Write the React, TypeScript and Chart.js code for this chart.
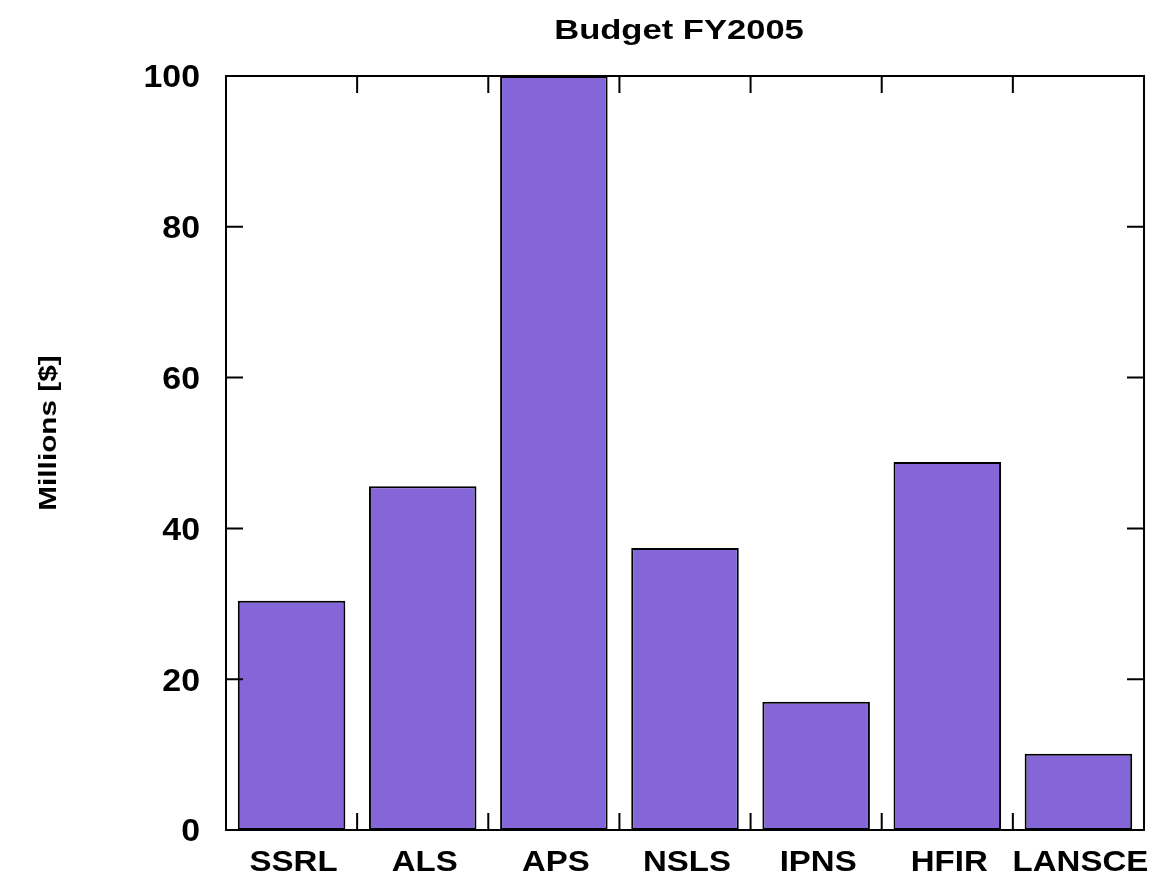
import React, { useEffect, useRef } from "react";
import { Chart, registerables } from "chart.js";

Chart.register(...registerables);

const categories = ["SSRL", "ALS", "APS", "NSLS", "IPNS", "HFIR", "LANSCE"];
const budget = [30.4, 45.6, 100, 37.4, 17.0, 48.8, 10.1];
const yTicks = [0, 20, 40, 60, 80, 100];
const titleText = "Budget FY2005";
const yTitleText = "Millions [$]";

const FAMILY = "'Liberation Sans', Arial, sans-serif";

function stretchedText(
  ctx: CanvasRenderingContext2D,
  text: string,
  x: number,
  y: number,
  size: number,
  sx: number,
  align: CanvasTextAlign,
  rotate = 0
) {
  ctx.save();
  ctx.translate(x, y);
  if (rotate) ctx.rotate(rotate);
  ctx.scale(sx, 1);
  ctx.font = `bold ${size}px ${FAMILY}`;
  ctx.fillStyle = "#000";
  ctx.textAlign = align;
  ctx.textBaseline = "alphabetic";
  ctx.fillText(text, 0, size * 0.358);
  ctx.restore();
}

const frameTicks = {
  id: "frameTicks",
  afterDraw(chart: any) {
    const { ctx, chartArea } = chart;
    const { left, right, top, bottom } = chartArea;
    const x = chart.scales.x;
    const y = chart.scales.y;
    const len = 17;
    ctx.save();
    ctx.strokeStyle = "#000";
    ctx.lineWidth = 2;
    ctx.beginPath();
    ctx.rect(left, top, right - left, bottom - top);
    ctx.stroke();
    ctx.beginPath();
    for (let i = 0; i < categories.length - 1; i++) {
      const px = (x.getPixelForValue(i) + x.getPixelForValue(i + 1)) / 2;
      ctx.moveTo(px, bottom);
      ctx.lineTo(px, bottom - len);
      ctx.moveTo(px, top);
      ctx.lineTo(px, top + len);
    }
    for (const v of yTicks) {
      const py = y.getPixelForValue(v);
      ctx.moveTo(left, py);
      ctx.lineTo(left + len, py);
      ctx.moveTo(right, py);
      ctx.lineTo(right - len, py);
    }
    ctx.stroke();
    ctx.restore();

    // text
    stretchedText(ctx, titleText, (left + right) / 2 - 6, 29, 27, 1.28, "center");
    for (const v of yTicks) {
      stretchedText(ctx, String(v), left - 26, y.getPixelForValue(v), 32, 1.06, "right");
    }
    categories.forEach((c, i) => {
      stretchedText(ctx, c, x.getPixelForValue(i) + 2, bottom + 30, 30, 1.1, "center");
    });
    stretchedText(ctx, yTitleText, 47, (top + bottom) / 2 - 20, 24, 1.24, "center", -Math.PI / 2);
  },
};

export default function App() {
  const ref = useRef<HTMLCanvasElement>(null);
  useEffect(() => {
    document.body.style.margin = "0";
    const chart = new Chart(ref.current!, {
      type: "bar",
      data: {
        labels: categories,
        datasets: [
          {
            data: budget,
            backgroundColor: "#8466D8",
            borderColor: "#000",
            borderWidth: 2,
            borderSkipped: false,
            categoryPercentage: 1,
            barPercentage: 0.82,
          },
        ],
      },
      options: {
        responsive: false,
        animation: false,
        layout: { padding: { left: 0, right: 14, top: 76, bottom: 0 } },
        plugins: {
          legend: { display: false },
          tooltip: { enabled: false },
          title: { display: false },
        },
        scales: {
          x: {
            grid: { display: false, drawTicks: false },
            border: { display: true, color: "#000", width: 2 },
            ticks: { display: false },
            afterFit: (s: any) => {
              s.height = 59;
            },
          },
          y: {
            min: 0,
            max: 100,
            grid: { display: false, drawTicks: false },
            border: { display: true, color: "#000", width: 2 },
            ticks: { display: false, stepSize: 20 },
            afterFit: (s: any) => {
              s.width = 226;
            },
          },
        },
      },
      plugins: [frameTicks],
    });
    return () => chart.destroy();
  }, []);
  return (
    <div style={{ position: "absolute", left: 0, top: 0 }}>
      <canvas ref={ref} width={1158} height={889} />
    </div>
  );
}
